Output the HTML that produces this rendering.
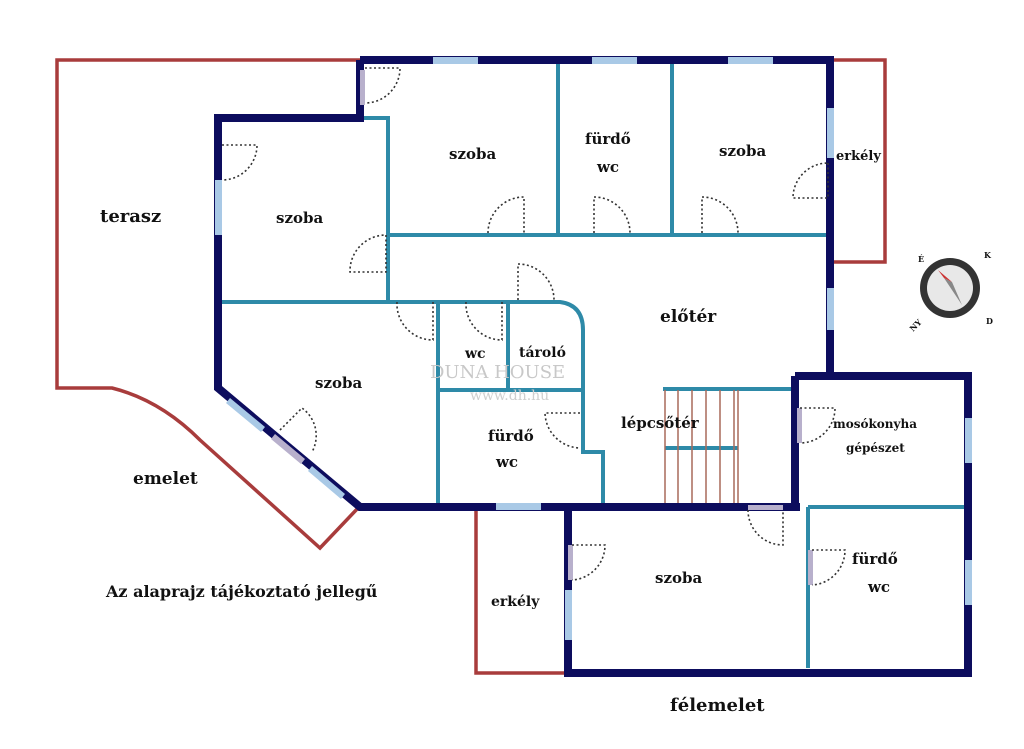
<!DOCTYPE html>
<html><head><meta charset="utf-8"><style>
html,body{margin:0;padding:0;background:#fff;}
svg{display:block}
text{font-family:"DejaVu Serif","Liberation Serif",serif;font-weight:bold;fill:#111;}
</style></head><body>
<svg width="1024" height="749" viewBox="0 0 1024 749" xmlns="http://www.w3.org/2000/svg">
<rect width="1024" height="749" fill="#fff"/>
<!-- red outlines -->
<g fill="none" stroke="#a83c3c" stroke-width="3.5">
<path d="M360,60 L57,60 L57,388 L112,388 Q160,400 200,440 L320,548 L358,508"/>
<path d="M830,60 L885,60 L885,262 L830,262"/>
<path d="M476,508 L476,673 L568,673"/>
</g>
<!-- teal inner walls -->
<g fill="none" stroke="#2e8aa8" stroke-width="4">
<path d="M362,118 L388,118 L388,302"/>
<path d="M388,235 L830,235"/>
<path d="M558,62 L558,235 M672,62 L672,235"/>
<path d="M220,302 L560,302 Q583,305 583,330 L583,452 L603,452 L603,503"/>
<path d="M438,302 L438,503 M508,302 L508,390 M438,390 L583,390"/>
<path d="M663,389 L795,389 M665,448 L738,448"/>
<path d="M808,507 L968,507 M808,507 L808,668"/>
</g>
<!-- stair lines -->
<g stroke="#a86a5a" stroke-width="1.5">
<path d="M665,390V505 M678,390V505 M692,390V505 M706,390V505 M720,390V505 M734,390V505 M738,390V505"/>
</g>
<!-- navy outer walls -->
<g fill="none" stroke="#0d0d5e" stroke-width="8" stroke-linejoin="miter">
<path d="M360,60 L830,60 L830,372"/>
<path d="M360,60 L360,118 L218,118 L218,388 L360,507 L800,507"/>
<path d="M795,376 L968,376 L968,673 L568,673 L568,507"/>
<path d="M795,376 L795,507"/>
</g>
<!-- windows -->
<g fill="#a9c9e6">
<rect x="433" y="57" width="45" height="7"/>
<rect x="592" y="57" width="45" height="7"/>
<rect x="728" y="57" width="45" height="7"/>
<rect x="827" y="108" width="7" height="50"/>
<rect x="827" y="288" width="7" height="42"/>
<rect x="215" y="180" width="7" height="55"/>
<rect x="496" y="503" width="45" height="7"/>
<rect x="965" y="418" width="7" height="45"/>
<rect x="965" y="560" width="7" height="45"/>
<rect x="565" y="590" width="7" height="50"/>
<polygon points="230,398 265,427 261,432 226,403" />
<polygon points="312,466 345,494 341,499 308,471"/>
</g>
<g fill="#b8b0cc">
<rect x="360" y="70" width="5" height="35"/>
<rect x="797" y="408" width="5" height="35"/>
<rect x="568" y="545" width="5" height="35"/>
<rect x="808" y="550" width="5" height="35"/>
<polygon points="275,434 305,459 301,464 271,439"/>
<rect x="748" y="505" width="35" height="5"/>
</g>
<!-- door arcs -->
<g fill="none" stroke="#333" stroke-width="1.6" stroke-dasharray="2,2.5">
<path d="M365,68 L400,68 A35,35 0 0 1 365,103"/>
<path d="M222,145 L257,145 A35,35 0 0 1 222,180"/>
<path d="M488,233 A36,36 0 0 1 524,197 L524,233"/>
<path d="M594,233 L594,197 A36,36 0 0 1 630,233"/>
<path d="M702,233 L702,197 A36,36 0 0 1 738,233"/>
<path d="M828,163 L828,198 L793,198 A35,35 0 0 1 828,163"/>
<path d="M386,235 L386,272 L350,272 A36,36 0 0 1 386,235"/>
<path d="M518,300 L518,264 A36,36 0 0 1 554,300"/>
<path d="M397,302 A36,36 0 0 0 433,340 L433,302"/>
<path d="M466,302 A36,36 0 0 0 502,340 L502,302"/>
<path d="M280,430 L302,408 A34,34 0 0 1 312,452"/>
<path d="M580,413 L545,413 A36,36 0 0 0 580,448"/>
<path d="M800,408 L835,408 A35,35 0 0 1 800,443"/>
<path d="M748,510 A35,35 0 0 0 783,545 L783,510"/>
<path d="M572,545 L605,545 A35,35 0 0 1 572,580"/>
<path d="M812,550 L845,550 A35,35 0 0 1 812,585"/>
</g>
<!-- compass -->
<g>
<circle cx="950" cy="288" r="30" fill="#333"/>
<circle cx="950" cy="288" r="23" fill="#e8e8e8"/>
<polygon points="944,278 962,305 952,282" fill="#888"/>
<polygon points="944,278 952,282 938,270" fill="#c33"/>
<text x="913" y="332" font-size="8" fill="#555" transform="rotate(-45 913 332)">NY</text>
<text x="986" y="324" font-size="8" fill="#555">D</text>
<text x="918" y="262" font-size="8" fill="#555">É</text>
<text x="984" y="258" font-size="8" fill="#555">K</text>
</g>
<!-- watermark -->
<text x="430" y="378" font-size="18" fill="#ccc" style="fill:#c8c8c8;font-weight:normal">DUNA HOUSE</text>
<text x="470" y="400" font-size="14" style="fill:#cfcfcf;font-weight:normal">www.dh.hu</text>
<!-- labels -->
<text x="100" y="222" font-size="18">terasz</text>
<text x="449" y="159" font-size="15">szoba</text>
<text x="585" y="144" font-size="15">fürdő</text>
<text x="597" y="172" font-size="15">wc</text>
<text x="719" y="156" font-size="15">szoba</text>
<text x="836" y="160" font-size="13">erkély</text>
<text x="276" y="223" font-size="15">szoba</text>
<text x="660" y="322" font-size="17">előtér</text>
<text x="465" y="358" font-size="14">wc</text>
<text x="519" y="357" font-size="14">tároló</text>
<text x="315" y="388" font-size="15">szoba</text>
<text x="488" y="441" font-size="15">fürdő</text>
<text x="496" y="467" font-size="15">wc</text>
<text x="621" y="428" font-size="15">lépcsőtér</text>
<text x="833" y="428" font-size="12">mosókonyha</text>
<text x="846" y="452" font-size="12">gépészet</text>
<text x="133" y="484" font-size="17">emelet</text>
<text x="106" y="597" font-size="16">Az alaprajz tájékoztató jellegű</text>
<text x="491" y="606" font-size="14">erkély</text>
<text x="655" y="583" font-size="15">szoba</text>
<text x="852" y="564" font-size="15">fürdő</text>
<text x="868" y="592" font-size="15">wc</text>
<text x="670" y="711" font-size="18">félemelet</text>
</svg>
</body></html>
